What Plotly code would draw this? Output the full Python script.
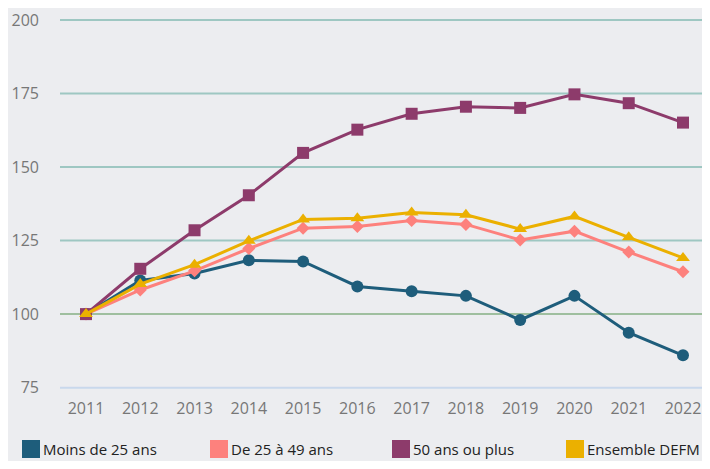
import plotly.graph_objects as go

# Indice base 100 en 2011
years = [2011, 2012, 2013, 2014, 2015, 2016, 2017, 2018, 2019, 2020, 2021, 2022]
moins_25 = [100, 111.4, 113.8, 118.3, 117.9, 109.4, 107.8, 106.2, 98.0, 106.2, 93.7, 86.0]
de_25_49 = [100, 108.2, 114.7, 122.3, 129.2, 129.8, 131.8, 130.5, 125.2, 128.2, 121.1, 114.4]
ans_50_plus = [100, 115.4, 128.5, 140.4, 154.8, 162.7, 168.1, 170.5, 170.1, 174.7, 171.7, 165.1]
ensemble = [100, 110.2, 116.8, 124.9, 132.2, 132.6, 134.5, 133.8, 128.9, 133.2, 126.1, 119.1]

y_ticks = [75, 100, 125, 150, 175, 200]

series = [
    ("Moins de 25 ans", moins_25, "#1e5d7b", "circle"),
    ("De 25 à 49 ans", de_25_49, "#fd817d", "diamond"),
    ("50 ans ou plus", ans_50_plus, "#8d3b6b", "square"),
    ("Ensemble DEFM", ensemble, "#ebb000", "triangle-up"),
]

# the page body adds an 8px margin, so the figure is kept inside the
# visible part of the window
W, H = 694, 453
ML, MR, MT, MB = 52, 0, 9, 66

fig = go.Figure()

# Gridlines with their own colours
grid_colors = {75: "#c9d8ec", 100: "#9fbf9f"}
for t in y_ticks:
    fig.add_hline(y=t, line=dict(color=grid_colors.get(t, "#9ec7c2"), width=2), layer="below")

for name, vals, color, symbol in series:
    fig.add_trace(go.Scatter(
        x=years, y=vals, mode="lines+markers", name=name,
        line=dict(color=color, width=3),
        marker=dict(color=color, symbol=symbol, size=12 if symbol != "diamond" else 10),
        showlegend=False, cliponaxis=False,
    ))

# Hand-drawn legend below the axis (square swatches)
legend_x = [14, 202, 384, 558]
pw, ph = W - ML - MR, H - MT - MB
def px_x(p):
    return (p - ML) / pw
def px_y(p):
    return (H - MB - p) / ph

for (name, vals, color, symbol), lx in zip(series, legend_x):
    fig.add_shape(type="rect", xref="paper", yref="paper",
                  x0=px_x(lx), x1=px_x(lx + 18), y0=px_y(450), y1=px_y(432),
                  fillcolor=color, line=dict(width=0))
    fig.add_annotation(xref="paper", yref="paper", x=px_x(lx + 19), y=px_y(441),
                       text=name, showarrow=False, xanchor="left", yanchor="middle",
                       font=dict(color="#222222", size=15))

fig.update_layout(
    width=W, height=H,
    margin=dict(l=ML, r=MR, t=MT, b=MB),
    paper_bgcolor="#ecedf0",
    plot_bgcolor="#ecedf0",
    font=dict(family="Open Sans", size=16, color="#777777"),
    showlegend=False,
    xaxis=dict(
        range=[2010.521, 2022.35], tickvals=years, ticktext=[str(y) for y in years],
        showgrid=False, zeroline=False, showline=False, ticks="",
        ticklabelstandoff=2, ticklabeloverflow="allow", automargin=False,
    ),
    yaxis=dict(
        range=[72.5, 201], tickvals=y_ticks, showgrid=False, zeroline=False,
        ticks="", ticklabelstandoff=20, ticklabeloverflow="allow", automargin=False,
    ),
)

fig.write_html("out.html")
